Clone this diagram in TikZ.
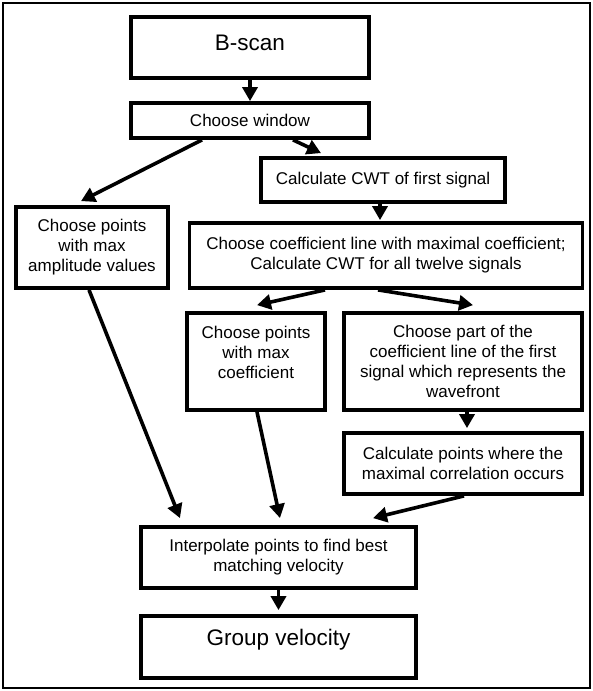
\documentclass[tikz,border=0pt]{standalone}
\usepackage{fontspec}
\setmainfont{Liberation Sans}
\usetikzlibrary{arrows.meta}
\begin{document}
\begin{tikzpicture}[x=1pt,y=-1pt,
  box/.style={draw,line width=3.8pt,inner sep=0pt,align=center,fill=white,
    font=\fontsize{17}{20}\selectfont},
  bigbox/.style={box,font=\fontsize{22.5}{26}\selectfont},
  arr/.style={line width=3.6pt,-{Triangle[length=14pt,width=15pt]}}]
\useasboundingbox (0,0) rectangle (593,691);
\draw[line width=2.5pt] (3,3) rectangle (590,688);
\node[bigbox,minimum width=238pt,minimum height=61pt,text depth=9pt] (bscan) at (250,47.5) {B-scan};
\node[box,minimum width=238pt,minimum height=35pt] (win) at (250,120.5) {Choose window};
\node[box,minimum width=244pt,minimum height=44pt] (cwt) at (383,180) {Calculate CWT of first signal};
\node[box,minimum width=152pt,minimum height=81pt] (amp) at (92,247.5) {Choose points\\with max\\amplitude values};
\node[box,minimum width=393pt,minimum height=65pt] (coef) at (386,255.5) {Choose coefficient line with maximal coefficient;\\Calculate CWT for all twelve signals};
\node[box,minimum width=138pt,minimum height=97pt,text depth=18pt] (maxc) at (256,361.5) {Choose points\\with max\\coefficient};
\node[box,minimum width=238pt,minimum height=97pt] (part) at (463,361.5) {Choose part of the\\coefficient line of the first\\signal which represents the\\wavefront};
\node[box,minimum width=238pt,minimum height=61pt] (calc) at (463,463.5) {Calculate points where the\\maximal correlation occurs};
\node[box,minimum width=275pt,minimum height=61pt] (interp) at (278.5,557.5) {Interpolate points to find best\\matching velocity};
\node[bigbox,minimum width=275pt,minimum height=62pt,text depth=18.7pt] (group) at (278.5,647) {Group velocity};
\draw[arr] (bscan.south) -- (win.north);
\draw[arr] ([xshift=43pt]win.south) -- ([xshift=-62pt,yshift=3pt]cwt.north);
\draw[arr] ([xshift=-48pt]win.south) -- ([xshift=-11pt,yshift=4pt]amp.north);
\draw[arr] ([xshift=-3pt]cwt.south) -- ([xshift=-6pt,yshift=1pt]coef.north);
\draw[arr] ([xshift=-61pt]coef.south) -- ([xshift=1pt,yshift=6pt]maxc.north);
\draw[arr] ([xshift=-8pt]coef.south) -- ([xshift=10pt,yshift=6pt]part.north);
\draw[arr] ([xshift=4pt]part.south) -- ([xshift=4pt,yshift=3pt]calc.north);
\draw[arr] ([xshift=1pt]calc.south) -- ([xshift=94.5pt,yshift=7pt]interp.north);
\draw[arr] ([xshift=-3pt]amp.south) -- ([xshift=-98.5pt,yshift=7pt]interp.north);
\draw[arr] ([xshift=1pt]maxc.south) -- ([xshift=1.5pt,yshift=7pt]interp.north);
\draw[arr] (interp.south) -- ([yshift=4pt]group.north);
\end{tikzpicture}
\end{document}
